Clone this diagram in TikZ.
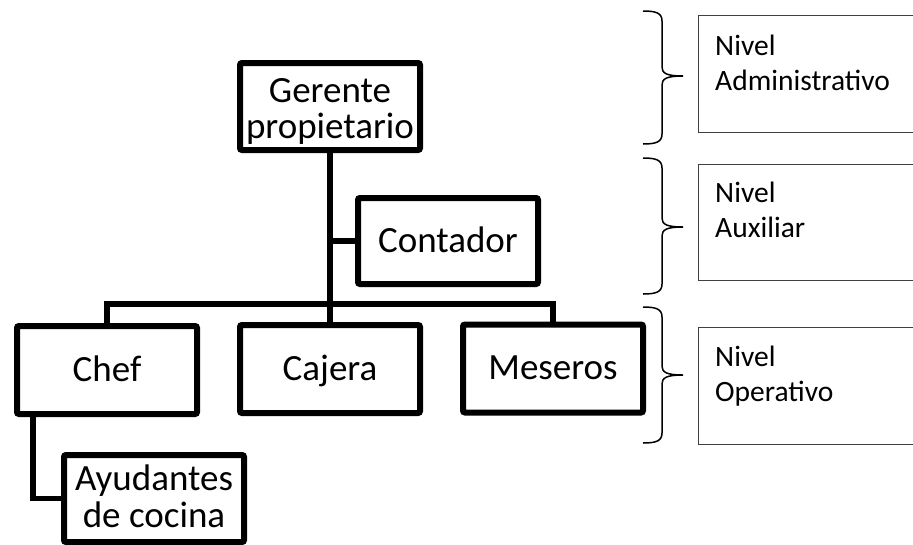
\documentclass[tikz,border=0pt]{standalone}
\usepackage{fontspec}
\setmainfont{Carlito}
\begin{document}
\begin{tikzpicture}[x=1pt,y=-1pt,
  orgbox/.style={draw, line width=6pt, rounded corners=2pt, minimum width=180pt, minimum height=87pt, align=center, inner sep=0pt, font=\fontsize{37}{36}\selectfont},
  oneline/.style={text height=22pt, text depth=0pt},
  link/.style={line width=5.5pt},
  lvlbox/.style={draw=black!75, line width=1.2pt, minimum width=227pt, minimum height=117pt, anchor=north west, inner sep=0pt},
  lvltext/.style={anchor=north west, align=left, inner sep=0pt, font=\fontsize{29.5}{35}\selectfont},
  bracepath/.style={line width=1.5pt}]
\useasboundingbox (0,0) rectangle (913,544);

% organisation boxes
\node[orgbox, text height=63pt, text depth=0pt] (ger) at (330,106.5) {Gerente\\propietario};
\node[orgbox, oneline, minimum height=86pt] (con) at (448,241) {Contador};
\node[orgbox, oneline, minimum height=88pt] (chef) at (107,370) {Chef};
\node[orgbox, oneline, minimum height=88pt] (caj) at (330,369) {Cajera};
\node[orgbox, oneline, minimum height=88pt] (mes) at (553,368.5) {Meseros};
\node[orgbox, font=\fontsize{37}{37}\selectfont, text height=58.5pt, text depth=0pt] (ayu) at (154,498.5) {Ayudantes\\de cocina};

% connectors
\coordinate (bus) at (330,304);
\draw[link] (ger.south) -- (caj.north);
\draw[link] (ger.south |- con.west) -- (con.west);
\draw[link] (chef.north) |- (bus) -| (mes.north);
\draw[link] ([xshift=-74pt]chef.south) |- (ayu.west);

% level boxes
\node[lvlbox] (b1) at (698,15) {};
\node[lvlbox, minimum height=116pt] (b2) at (698,164) {};
\node[lvlbox] (b3) at (698,327) {};
\node[lvltext] (t1) at ([xshift=17pt, yshift=-20pt]b1.north west) {Nivel\\Administrativo};
\node[lvltext] (t2) at ([xshift=17pt, yshift=-18pt]b2.north west) {Nivel\\Auxiliar};
\node[lvltext] (t3) at ([xshift=17pt, yshift=-19pt]b3.north west) {Nivel\\Operativo};

% braces
\draw[bracepath] (643,11) .. controls (656,11) and (662,13) .. (662,21) -- (662,67)
  .. controls (662,73) and (666,76) .. (683,76)
  .. controls (666,76) and (662,79) .. (662,85) -- (662,134)
  .. controls (662,142) and (656,144) .. (643,144);
\draw[bracepath] (643,158) .. controls (656,158) and (662,160) .. (662,168) -- (662,218)
  .. controls (662,224) and (666,227) .. (683,227)
  .. controls (666,227) and (662,230) .. (662,236) -- (662,284)
  .. controls (662,292) and (656,294) .. (643,294);
\draw[bracepath] (643,307) .. controls (656,307) and (662,309) .. (662,317) -- (662,366)
  .. controls (662,372) and (666,375) .. (683,375)
  .. controls (666,375) and (662,378) .. (662,384) -- (662,433)
  .. controls (662,441) and (656,443) .. (643,443);
\end{tikzpicture}
\end{document}
